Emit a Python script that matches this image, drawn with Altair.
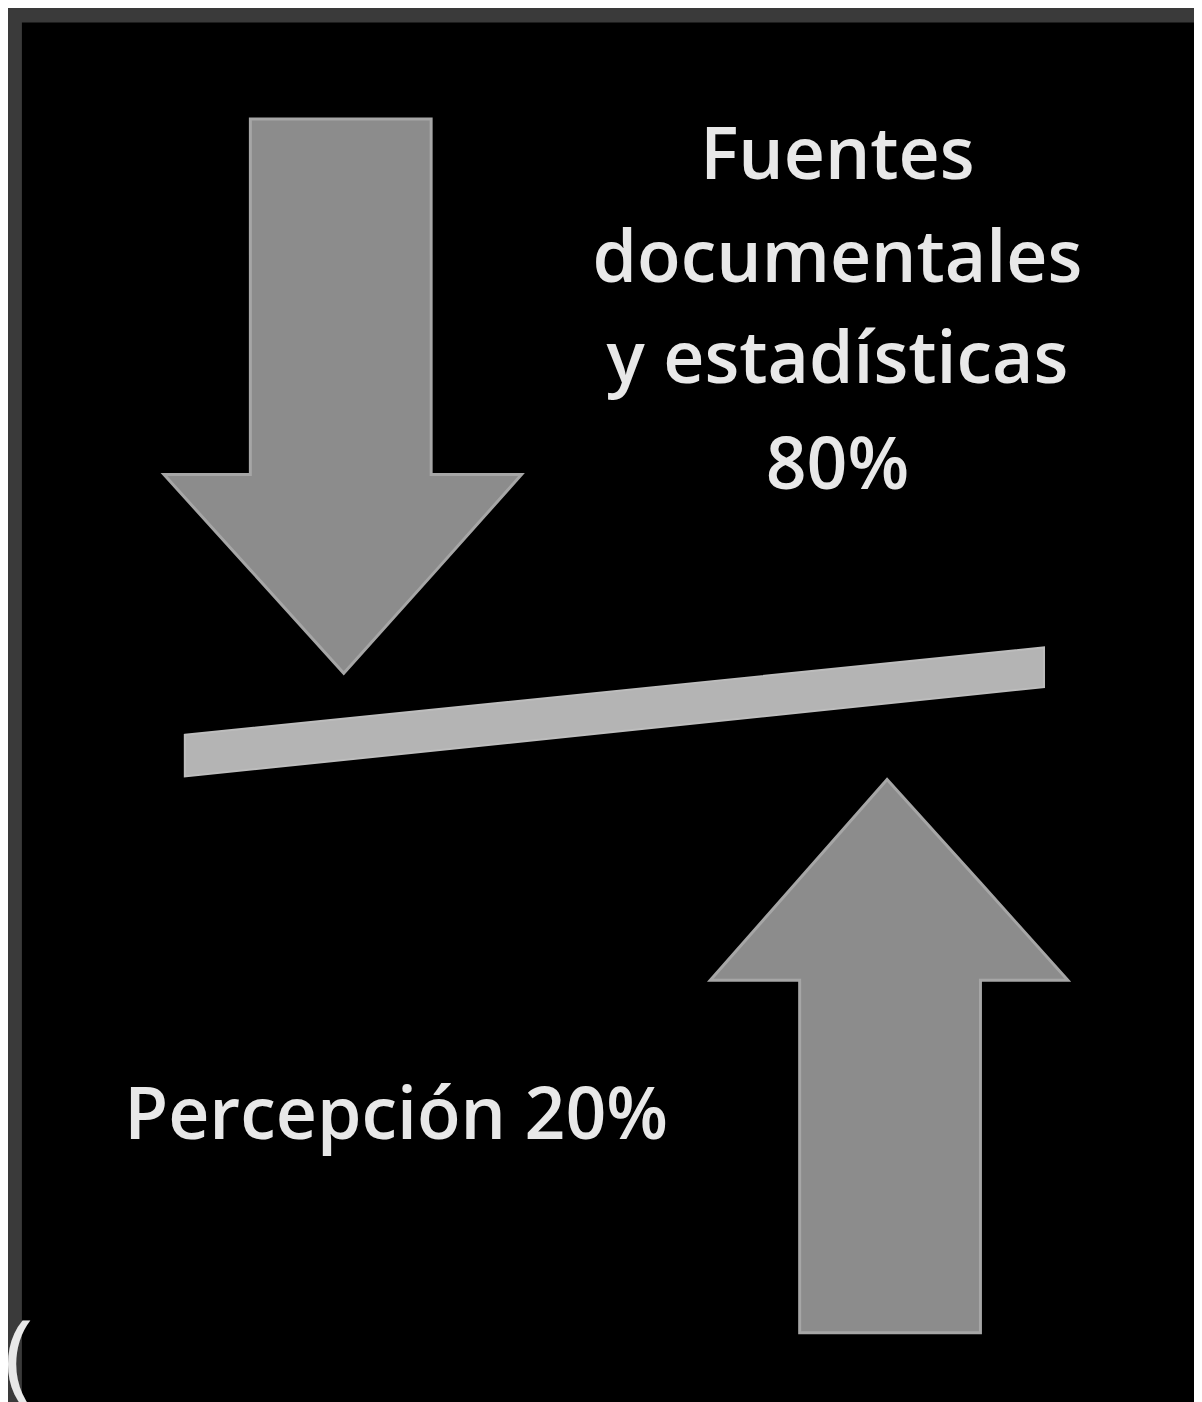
import altair as alt
import pandas as pd

# Background panel (black slide on dark grey frame)
panel_x = [22]
panel_x2 = [1210]
panel_y = [18]
panel_y2 = [1410]

# Down arrow outline (x, top, bottom)
down_x = [165, 252, 252.01, 346, 434, 434.01, 525]
down_top = [473, 473, 115, 115, 115, 473, 473]
down_bot = [473, 569, 569, 673, 575, 575, 473]

# Up arrow outline (x, top, bottom)
up_x = [715, 805, 805.01, 893, 987, 987.01, 1075]
up_top = [982, 880, 880, 780, 884, 884, 982]
up_bot = [982, 982, 1337, 1337, 1337, 982, 982]

# Tilted balance bar
bar_x = [186, 1051]
bar_top = [735, 647]
bar_bot = [777, 687]

# Labels
top_lines = ["Fuentes", "documentales", "y estadísticas", "80%"]
top_x = [843, 843, 843, 843]
top_y = [175, 279, 381, 488]
bottom_label = ["Percepción 20%"]
bottom_x = [125]
bottom_y = [1142]

W, H = 1194, 1394
xs = alt.Scale(domain=[8, 1202], nice=False, zero=False)
ys = alt.Scale(domain=[8, 1402], nice=False, zero=False, reverse=True)

panel = pd.DataFrame({"x": panel_x, "x2": panel_x2, "y": panel_y, "y2": panel_y2})
bg = alt.Chart(panel).mark_rect(color="#000000").encode(
    x=alt.X("x:Q", scale=xs, axis=None), x2="x2:Q",
    y=alt.Y("y:Q", scale=ys, axis=None), y2="y2:Q",
)

arrows = pd.DataFrame({
    "shape": ["down"] * len(down_x) + ["up"] * len(up_x),
    "x": down_x + up_x,
    "y": down_top + up_top,
    "y2": down_bot + up_bot,
})
arrow_layer = alt.Chart(arrows).mark_area(
    color="#8c8c8c", stroke="#a6a6a6", strokeWidth=3, interpolate="linear", opacity=1,
    orient="vertical",
).encode(
    x=alt.X("x:Q", scale=xs, axis=None),
    y=alt.Y("y:Q", scale=ys, axis=None), y2="y2:Q",
    detail="shape:N",
)

bar = pd.DataFrame({"x": bar_x, "y": bar_top, "y2": bar_bot})
bar_layer = alt.Chart(bar).mark_area(
    color="#b4b4b4", stroke="#bdbdbd", strokeWidth=2, opacity=1, orient="vertical",
).encode(
    x=alt.X("x:Q", scale=xs, axis=None),
    y=alt.Y("y:Q", scale=ys, axis=None), y2="y2:Q",
)

tl = pd.DataFrame({"t": top_lines, "x": top_x, "y": top_y})
top_text = alt.Chart(tl).mark_text(
    font="Open Sans", fontSize=72, fontWeight=600, color="#e8e8e8", align="center",
    baseline="alphabetic"
).encode(
    x=alt.X("x:Q", scale=xs, axis=None),
    y=alt.Y("y:Q", scale=ys, axis=None),
    text="t:N",
)

bl = pd.DataFrame({"t": bottom_label, "x": bottom_x, "y": bottom_y})
bottom_text = alt.Chart(bl).mark_text(
    font="Open Sans", fontSize=72, fontWeight=600, color="#e8e8e8", align="left",
    baseline="alphabetic"
).encode(
    x=alt.X("x:Q", scale=xs, axis=None),
    y=alt.Y("y:Q", scale=ys, axis=None),
    text="t:N",
)

paren = pd.DataFrame({"t": ["("], "x": [4], "y": [1396]})
paren_text = alt.Chart(paren).mark_text(
    font="Open Sans", fontSize=100, color="#e8e8e8", align="left", baseline="alphabetic"
).encode(
    x=alt.X("x:Q", scale=xs, axis=None),
    y=alt.Y("y:Q", scale=ys, axis=None),
    text="t:N",
)

chart = alt.layer(bg, arrow_layer, bar_layer, top_text, bottom_text, paren_text).properties(
    width=W, height=H, padding=0, autosize=alt.AutoSizeParams(type="none"),
    background="#3a3a3a",
).configure_view(stroke=None)

chart.save("out.html", embed_options={"renderer": "svg", "actions": False})
